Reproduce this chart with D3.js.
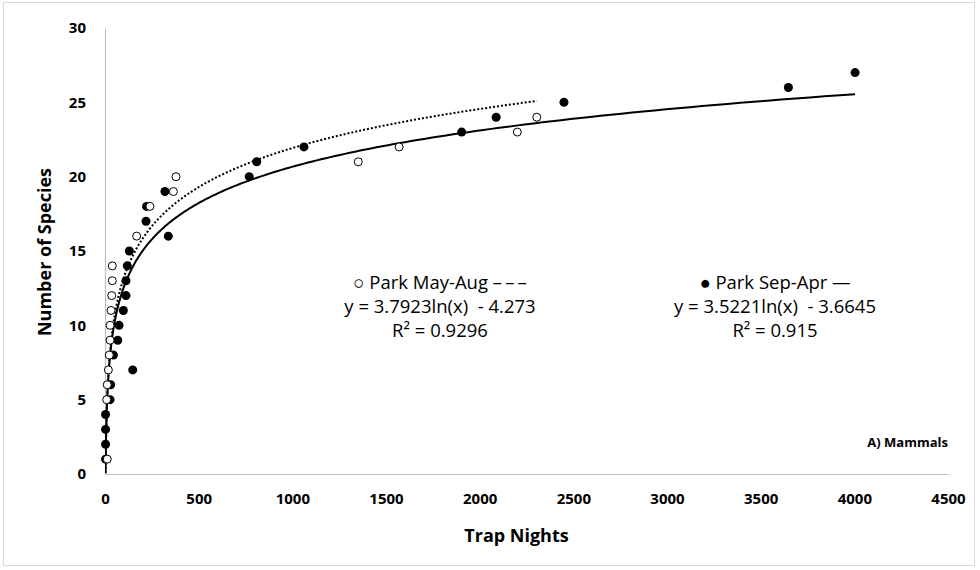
<!DOCTYPE html>
<html>
<head>
<meta charset="utf-8">
<script src="https://cdn.jsdelivr.net/npm/d3@7"></script>
<style>
  body { margin: 0; background: #fff; }
  text { font-family: "Open Sans", sans-serif; fill: #000; }
</style>
</head>
<body>
<div id="chart"></div>
<script>
// Park May-Aug (open circles)
const mayAugX = [12, 9, 12, 18, 23, 27, 27, 32, 36, 39, 39, 169, 240, 365, 379, 1352, 1570, 2201, 2305];
const mayAugY = [1, 5, 6, 7, 8, 9, 10, 11, 12, 13, 14, 16, 18, 19, 20, 21, 22, 23, 24];
// Park Sep-Apr (filled circles)
const sepAprX = [3, 3, 3, 3, 27, 30, 148, 45, 68, 75, 98, 112, 112, 119, 130, 338, 219, 222, 320, 770, 810, 1062, 1904, 2088, 2450, 3648, 4004];
const sepAprY = [1, 2, 3, 4, 5, 6, 7, 8, 9, 10, 11, 12, 13, 14, 15, 16, 17, 18, 19, 20, 21, 22, 23, 24, 25, 26, 27];

const xTicks = [0, 500, 1000, 1500, 2000, 2500, 3000, 3500, 4000, 4500];
const yTicks = [0, 5, 10, 15, 20, 25, 30];

// log trendlines y = a ln(x) + b, as printed on the chart
const fitMayAug = {a: 3.7923, b: -4.273};
const fitSepApr = {a: 3.5221, b: -3.6645};

const mayAug = mayAugX.map((x, i) => ({x: x, y: mayAugY[i]}));
const sepApr = sepAprX.map((x, i) => ({x: x, y: sepAprY[i]}));

const W = 980, H = 570;
const margin = {top: 28, right: 32, bottom: 96, left: 105},
      width = W - margin.left - margin.right,
      height = H - margin.top - margin.bottom;

const root = d3.select("#chart").append("svg")
  .attr("width", W)
  .attr("height", H);

// outer frame
root.append("rect")
  .attr("x", 3.5).attr("y", 2.5)
  .attr("width", 971).attr("height", 563)
  .attr("fill", "none")
  .attr("stroke", "#d9d9d9");

const svg = root.append("g")
  .attr("transform", `translate(${margin.left},${margin.top})`);

const x = d3.scaleLinear().domain([0, 4500]).range([0, width]);
const y = d3.scaleLinear().domain([0, 30]).range([height, 0]);

// axes (no tick marks, gray lines)
const xAxis = svg.append("g")
  .attr("transform", `translate(0,${height})`)
  .call(d3.axisBottom(x).tickValues(xTicks).tickFormat(d3.format("d")).tickSize(0).tickPadding(19));
const yAxis = svg.append("g")
  .call(d3.axisLeft(y).tickValues(yTicks).tickSize(0).tickPadding(19));

[xAxis, yAxis].forEach(a => {
  a.select(".domain").attr("stroke", "#bfbfbf").attr("stroke-width", 1.2);
  a.selectAll("text")
    .attr("font-family", "Open Sans, sans-serif")
    .attr("font-weight", "bold")
    .attr("font-size", 15);
});

// trendlines
const clip = svg.append("clipPath").attr("id", "plot-clip")
  .append("rect").attr("width", width).attr("height", height);

function curve(fit, xmin, xmax) {
  const pts = [];
  const n = 400;
  for (let i = 0; i <= n; i++) {
    const v = Math.exp(Math.log(xmin) + (Math.log(xmax) - Math.log(xmin)) * i / n);
    pts.push({x: v, y: fit.a * Math.log(v) + fit.b});
  }
  return pts.filter(d => d.y >= 0);
}

const line = d3.line().x(d => x(d.x)).y(d => y(d.y));

svg.append("path")
  .datum(curve(fitSepApr, 1, d3.max(sepAprX)))
  .attr("clip-path", "url(#plot-clip)")
  .attr("fill", "none")
  .attr("stroke", "#000")
  .attr("stroke-width", 2)
  .attr("d", line);

svg.append("path")
  .datum(curve(fitMayAug, 1, d3.max(mayAugX)))
  .attr("clip-path", "url(#plot-clip)")
  .attr("fill", "none")
  .attr("stroke", "#000")
  .attr("stroke-width", 2)
  .attr("stroke-dasharray", "2,2")
  .attr("d", line);

// points
svg.selectAll("circle.sep")
  .data(sepApr)
  .join("circle")
    .attr("class", "sep")
    .attr("cx", d => x(d.x))
    .attr("cy", d => y(d.y))
    .attr("r", 4.5)
    .attr("fill", "#000");

svg.selectAll("circle.may")
  .data(mayAug)
  .join("circle")
    .attr("class", "may")
    .attr("cx", d => x(d.x))
    .attr("cy", d => y(d.y))
    .attr("r", 4)
    .attr("fill", "#fff")
    .attr("stroke", "#000")
    .attr("stroke-width", 1);

// equation labels
const labels = [
  {cx: 440, lines: ["\u25CB Park May-Aug \u2013\u2009\u2013\u2009\u2013", "y = 3.7923ln(x)  - 4.273", "R\u00B2 = 0.9296"]},
  {cx: 775, lines: ["\u25CF Park Sep-Apr \u2014", "y = 3.5221ln(x)  - 3.6645", "R\u00B2 = 0.915"]}
];
labels.forEach(l => {
  root.append("g").selectAll("text")
    .data(l.lines)
    .join("text")
      .attr("x", l.cx)
      .attr("y", (d, i) => 289 + i * 24)
      .attr("text-anchor", "middle")
      .attr("font-size", 18.5)
      .style("white-space", "pre")
      .text(d => d);
});

root.append("text")
  .attr("x", 948).attr("y", 447)
  .attr("text-anchor", "end")
  .attr("font-size", 13)
  .attr("font-weight", "bold")
  .text("A) Mammals");

// axis titles
root.append("text")
  .attr("x", margin.left + width / 2 - 10)
  .attr("y", 542)
  .attr("text-anchor", "middle")
  .attr("font-size", 18)
  .attr("font-weight", "bold")
  .text("Trap Nights");

root.append("text")
  .attr("transform", "translate(51,252) rotate(-90)")
  .attr("text-anchor", "middle")
  .attr("font-size", 18)
  .attr("font-weight", "bold")
  .text("Number of Species");
</script>
</body>
</html>
